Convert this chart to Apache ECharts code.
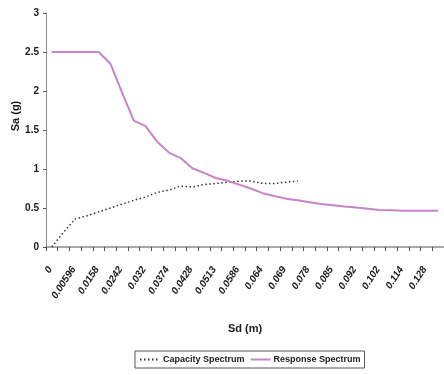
<!DOCTYPE html>
<html>
<head>
<meta charset="utf-8">
<script src="https://cdn.jsdelivr.net/npm/echarts@6/dist/echarts.min.js"></script>
<style>
  html, body { margin: 0; padding: 0; background: #fff; }
  #chart { width: 444px; height: 375px; }
</style>
</head>
<body>
<div id="chart"></div>
<script>
// Spectral displacement Sd (m) for each category; every other one is labelled
const sdCategories = [
  '0', '0.00315', '0.00596', '0.0108', '0.0158', '0.0199', '0.0242', '0.0281',
  '0.032', '0.0347', '0.0374', '0.0401', '0.0428', '0.0472', '0.0513', '0.0551',
  '0.0586', '0.0613', '0.064', '0.0665', '0.069', '0.0734', '0.078', '0.0815',
  '0.085', '0.0885', '0.092', '0.097', '0.102', '0.108', '0.114', '0.121',
  '0.128', '0.135'
];

// Capacity spectrum Sa (g)
const capacitySpectrum = [
  0, 0.19, 0.36, 0.40, 0.45, 0.50, 0.55, 0.60,
  0.64, 0.70, 0.73, 0.78, 0.77, 0.80, 0.815, 0.83,
  0.845, 0.845, 0.815, 0.815, 0.83, 0.845
];

// Response spectrum Sa (g)
const responseSpectrum = [
  2.5, 2.5, 2.5, 2.5, 2.5, 2.35, 1.98, 1.62,
  1.55, 1.35, 1.21, 1.14, 1.01, 0.95, 0.885, 0.85,
  0.80, 0.75, 0.69, 0.655, 0.62, 0.60, 0.575, 0.55,
  0.535, 0.52, 0.505, 0.49, 0.475, 0.47, 0.465, 0.465,
  0.465, 0.465
];

const saTicks = [0, 0.5, 1, 1.5, 2, 2.5, 3];

const FONT = '"Liberation Sans", Arial, sans-serif';
const AXIS_GREY = '#8a8a8a';
const TEXT = '#1a1a1a';
const PINK = '#c784c9';

const chart = echarts.init(document.getElementById('chart'), null, { renderer: 'canvas' });

chart.setOption({
  backgroundColor: '#ffffff',
  animation: false,
  textStyle: { fontFamily: FONT },
  grid: { left: 46, top: 13, width: 405, height: 234, containLabel: false },
  xAxis: {
    type: 'category',
    data: sdCategories,
    boundaryGap: true,
    name: 'Sd (m)',
    nameLocation: 'middle',
    nameGap: 76,
    nameMoveOverlap: false,
    nameTextStyle: { fontFamily: FONT, fontSize: 11, fontWeight: 'bold', color: TEXT },
    axisLine: { lineStyle: { color: AXIS_GREY, width: 1.5 } },
    axisTick: { show: true, interval: 0, length: 4, lineStyle: { color: '#555' } },
    axisLabel: {
      interval: 1,
      rotate: 57,
      margin: 18,
      padding: [0, 3, 9, 0],
      fontFamily: FONT,
      fontSize: 10,
      fontWeight: 'bold',
      fontStyle: 'italic',
      color: TEXT
    },
    splitLine: { show: false }
  },
  yAxis: {
    type: 'value',
    min: saTicks[0],
    max: saTicks[saTicks.length - 1],
    interval: 0.5,
    name: 'Sa (g)',
    nameLocation: 'middle',
    nameGap: 25,
    nameMoveOverlap: false,
    nameRotate: 90,
    nameTextStyle: { fontFamily: FONT, fontSize: 11, fontWeight: 'bold', color: TEXT, padding: [0, 0, 0, 28] },
    axisLine: { show: true, lineStyle: { color: AXIS_GREY, width: 1 } },
    axisTick: { show: true, length: 3, lineStyle: { color: '#555' } },
    axisLabel: {
      margin: 7,
      fontFamily: FONT,
      fontSize: 10,
      fontWeight: 'bold',
      color: TEXT,
      formatter: v => String(v)
    },
    splitLine: { show: false }
  },
  legend: {
    left: 135,
    top: 351,
    padding: [4, 4, 4, 4],
    itemGap: 5,
    itemWidth: 20,
    itemHeight: 10,
    borderColor: '#555',
    borderWidth: 1,
    itemStyle: { opacity: 0 },
    textStyle: { fontFamily: FONT, fontSize: 9, fontWeight: 'bold', color: TEXT, padding: [0, 0, 0, -2] },
    data: ['Capacity Spectrum', 'Response Spectrum']
  },
  series: [
    {
      name: 'Capacity Spectrum',
      type: 'line',
      data: capacitySpectrum,
      symbol: 'none',
      lineStyle: { color: '#333', width: 1.5, type: [1.5, 2.5] },
      itemStyle: { color: '#333' }
    },
    {
      name: 'Response Spectrum',
      type: 'line',
      data: responseSpectrum,
      symbol: 'none',
      lineStyle: { color: PINK, width: 2 },
      itemStyle: { color: PINK }
    }
  ]
});
</script>
</body>
</html>
